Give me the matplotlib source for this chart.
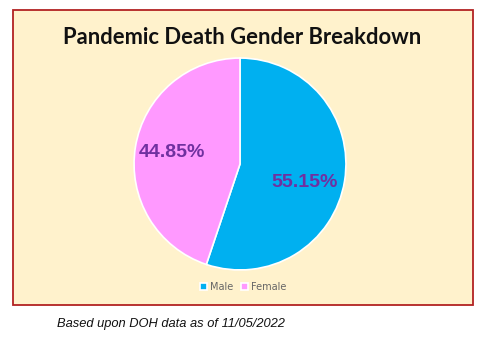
import matplotlib
matplotlib.use('Agg')
import matplotlib.pyplot as plt
from matplotlib.patches import Rectangle

genders = ['Male', 'Female']
shares = [55.15, 44.85]
colors = ['#00B0F0', '#FF99FF']

W, H = 489, 338
fig = plt.figure(figsize=(W / 100, H / 100), dpi=100)

# beige panel with red border, drawn in its own background axes
bg = fig.add_axes([0, 0, 1, 1], zorder=-1)
bg.set_xlim(0, W)
bg.set_ylim(H, 0)
bg.axis('off')
bg.add_patch(Rectangle((13, 10), 460, 295, facecolor='#FFF2CC', edgecolor='#B22222',
                       linewidth=1.3))

fig.text(242 / W, 1 - 37 / H, 'Pandemic Death Gender Breakdown', ha='center', va='center',
         fontsize=15.8, fontweight='bold', family='Lato', color='#111111')

ax = fig.add_axes([(240 - 107) / W, 1 - (164 + 107) / H, 214 / W, 214 / H])
wedges, texts, autotexts = ax.pie(shares, colors=colors, startangle=90, counterclock=False,
                                  autopct='%.2f%%', pctdistance=0.65,
                                  wedgeprops=dict(edgecolor='white', linewidth=1.2))
for t in autotexts:
    t.set_color('#7030A0')
    t.set_fontsize(14)
    t.set_fontweight('bold')
    t.set_family('Liberation Sans')
# nudge the male label a little lower
mx, my = autotexts[0].get_position()
autotexts[0].set_position((mx - 0.03, my - 0.07))
ax.set_xlim(-1.01, 1.01)
ax.set_ylim(-1.01, 1.01)
ax.set_aspect('equal')
ax.axis('off')

fig.legend(wedges, genders, loc='center', bbox_to_anchor=(243 / W, 1 - 287 / H), ncol=2,
           frameon=False, fontsize=7, handlelength=0.7, handleheight=0.7, handletextpad=0.3,
           columnspacing=0.8, labelcolor='#666666')

fig.text(171 / W, 1 - 324 / H, 'Based upon DOH data as of 11/05/2022', ha='center', va='center',
         fontsize=9.3, style='italic', family='Liberation Sans', color='#111111')

fig.savefig('out.png', dpi=100, facecolor='white')
